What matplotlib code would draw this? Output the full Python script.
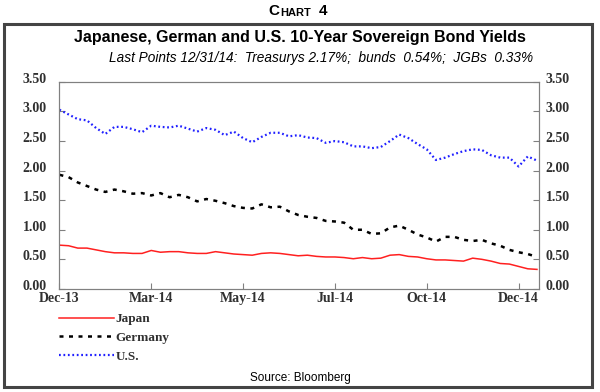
import numpy as np
import matplotlib
matplotlib.use("Agg")
import matplotlib.pyplot as plt
from matplotlib.patches import Rectangle
from matplotlib.lines import Line2D
from matplotlib.transforms import ScaledTranslation

# Weekly readings, 31 Dec 2013 .. 31 Dec 2014 (week index 0..52)
us = [3.03, 2.95, 2.87, 2.85, 2.72, 2.62, 2.74, 2.74, 2.70, 2.65,
      2.76, 2.74, 2.73, 2.76, 2.71, 2.66, 2.72, 2.69, 2.60, 2.66,
      2.55, 2.48, 2.57, 2.64, 2.64, 2.58, 2.60, 2.56, 2.55, 2.47,
      2.50, 2.48, 2.41, 2.41, 2.38, 2.40, 2.50, 2.61, 2.55, 2.45,
      2.36, 2.18, 2.22, 2.28, 2.33, 2.36, 2.35, 2.26, 2.22, 2.22,
      2.07, 2.24, 2.17]
germany = [1.93, 1.89, 1.80, 1.74, 1.68, 1.64, 1.68, 1.65, 1.61, 1.62,
           1.58, 1.62, 1.55, 1.59, 1.55, 1.48, 1.52, 1.49, 1.45, 1.40,
           1.37, 1.36, 1.43, 1.38, 1.39, 1.31, 1.25, 1.22, 1.20, 1.15,
           1.14, 1.12, 1.00, 1.00, 0.93, 0.94, 1.04, 1.07, 1.00, 0.92,
           0.87, 0.80, 0.88, 0.88, 0.83, 0.81, 0.83, 0.77, 0.73, 0.66,
           0.62, 0.59, 0.54]
japan = [0.74, 0.73, 0.69, 0.69, 0.66, 0.63, 0.61, 0.61, 0.60, 0.60,
         0.65, 0.62, 0.63, 0.63, 0.61, 0.60, 0.60, 0.63, 0.61, 0.59,
         0.58, 0.57, 0.60, 0.61, 0.60, 0.58, 0.56, 0.57, 0.55, 0.54,
         0.54, 0.53, 0.51, 0.53, 0.51, 0.52, 0.57, 0.58, 0.55, 0.54,
         0.51, 0.49, 0.49, 0.48, 0.47, 0.52, 0.50, 0.47, 0.43, 0.42,
         0.38, 0.34, 0.33]

tick_weeks = [0, 10, 20, 30, 40, 50]
tick_labels = ["Dec-13", "Mar-14", "May-14", "Jul-14", "Oct-14", "Dec-14"]
y_ticks = [0.0, 0.5, 1.0, 1.5, 2.0, 2.5, 3.0, 3.5]

weeks = np.arange(len(us))

serif = "Liberation Serif"
sans = "Liberation Sans"

fig = plt.figure(figsize=(6.0, 3.92), dpi=100)
fig.patch.set_facecolor("white")

# outer frame
fig.patches.append(Rectangle((0.007, 0.013), 0.980, 0.925, transform=fig.transFigure,
                             fill=False, edgecolor="#444444", lw=2.2))

ax = fig.add_axes([0.099, 0.263, 0.799, 0.528])
ax.plot(weeks, japan, color="#ff2020", lw=1.1, label="Japan")
ax.plot(weeks, germany, color="black", lw=1.8, dashes=(1.6, 2.2), label="Germany")
ax.plot(weeks, us, color="#2020ff", lw=1.6, dashes=(0.8, 1.2), label="U.S.")

ax.set_xlim(0, 52.2)
ax.set_ylim(0, 3.5)
ax.set_xticks(tick_weeks)
ax.set_xticklabels(tick_labels)
ax.set_yticks(y_ticks)
ax.set_yticklabels([f"{v:.2f}" for v in y_ticks])
for s in ax.spines.values():
    s.set_color("#808080")
ax.tick_params(axis="both", direction="in", length=4, color="#808080",
               labelsize=10)
ax.tick_params(axis="y", pad=9)
ax.tick_params(axis="x", pad=2)

ax2 = ax.twinx()
ax2.set_ylim(0, 3.5)
ax2.set_yticks(y_ticks)
ax2.set_yticklabels([f"{v:.2f}" for v in y_ticks])
ax2.tick_params(axis="y", direction="in", length=4, color="#808080",
                labelsize=10, pad=5)
for s in ax2.spines.values():
    s.set_color("#808080")

# y labels sit a few pixels above their ticks in the original
lift = ScaledTranslation(0, 4 / 100, fig.dpi_scale_trans)
for lab in ax.get_yticklabels() + ax2.get_yticklabels():
    lab.set_transform(lab.get_transform() + lift)

for lab in ax.get_xticklabels() + ax.get_yticklabels() + ax2.get_yticklabels():
    lab.set_fontfamily(serif)
    lab.set_fontweight("bold")
    lab.set_color("#303030")

handles = [
    Line2D([], [], color="#ff2020", lw=1.1),
    Line2D([], [], color="black", lw=1.8, dashes=(1.6, 2.2)),
    Line2D([], [], color="#2020ff", lw=1.6, dashes=(0.8, 1.2)),
]
fig.legend(handles, ["Japan", "Germany", "U.S."], loc="upper left",
           bbox_to_anchor=(0.078, 0.232), frameon=False, handlelength=4.2,
           handletextpad=0.1, labelspacing=0.5,
           prop={"family": serif, "size": 9.5, "weight": "bold"},
           labelcolor="#303030")

# header
fig.text(0.447, 0.972, "C", ha="left", va="center", fontsize=11,
         fontweight="bold", family=sans)
fig.text(0.467, 0.968, "HART", ha="left", va="center", fontsize=8,
         fontweight="bold", family=sans)
fig.text(0.531, 0.972, "4", ha="left", va="center", fontsize=11,
         fontweight="bold", family=sans)

fig.text(0.5, 0.905, "Japanese, German and U.S. 10-Year Sovereign Bond Yields",
         ha="center", va="center", fontsize=11.5, fontweight="bold", family=sans)
fig.text(0.535, 0.852,
         "Last Points 12/31/14:  Treasurys 2.17%;  bunds  0.54%;  JGBs  0.33%",
         ha="center", va="center", fontsize=9.8, style="italic", family=sans)
fig.text(0.5, 0.036, "Source: Bloomberg", ha="center", va="center",
         fontsize=8.5, family=sans)

fig.savefig("out.png", dpi=100)
